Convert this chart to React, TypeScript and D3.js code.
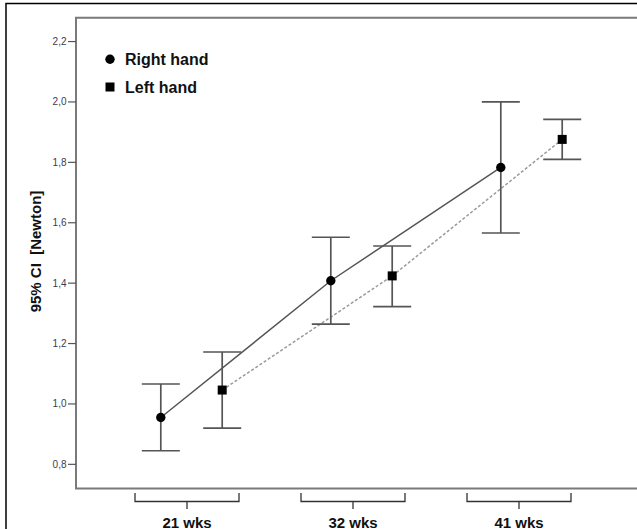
import * as React from "react";
import * as d3 from "d3";

// groups (gestational age) and the two series
const categories = ["21 wks", "32 wks", "41 wks"];
const rightMean = [0.955, 1.408, 1.783];
const rightLow = [0.845, 1.264, 1.566];
const rightHigh = [1.066, 1.552, 2.0];
const leftMean = [1.046, 1.424, 1.876];
const leftLow = [0.92, 1.322, 1.81];
const leftHigh = [1.172, 1.523, 1.942];
const yTicks = [0.8, 1.0, 1.2, 1.4, 1.6, 1.8, 2.0, 2.2];

const W = 637;
const H = 529;
const FONT = "'Liberation Sans', Arial, sans-serif";

const App = () => {
  const left = 76;
  const top = 17.7;
  const bottom = 488.5;

  const y = d3.scaleLinear().domain([0.72, 2.279]).range([bottom, top]);
  // bracket centres under the axis
  const xGroup = d3.scalePoint<string>().domain(categories).range([187, 519]);
  // marker positions (series are dodged around these)
  const xMark = d3.scalePoint<string>().domain(categories).range([191.5, 531.5]);
  const dodge = 30.7;

  const series = [
    { name: "Right hand", mean: rightMean, low: rightLow, high: rightHigh, off: -dodge, shape: "circle" },
    { name: "Left hand", mean: leftMean, low: leftLow, high: leftHigh, off: dodge, shape: "square" },
  ];

  const line = d3.line<[number, number]>().x(d => d[0]).y(d => d[1]);
  const fmt = (v: number) => d3.format(".1f")(v).replace(".", ",");

  return (
    <svg width={W} height={H} style={{ position: "absolute", left: 0, top: 0, background: "#fff" }}>
      {/* outer border */}
      <rect x={6} y={3.5} width={W + 20} height={H + 20} fill="none" stroke="#000" strokeWidth={1.5} />

      {/* plot frame */}
      <path d={`M${W + 5},${top} H${left} V${bottom} H${W + 5}`} fill="none" stroke="#7a7a7a" strokeWidth={2} />

      {/* y axis ticks */}
      {yTicks.map((t, i) => (
        <g key={i}>
          <line x1={68} x2={left} y1={y(t)} y2={y(t)} stroke="#555" strokeWidth={1.2} />
          <text x={66.5} y={y(t)} dy="0.35em" textAnchor="end" fontFamily={FONT} fontSize={10} fill="#3c3c50">
            {fmt(t)}
          </text>
        </g>
      ))}
      <text
        transform={`translate(41,${(185 + 318) / 2}) rotate(-90)`}
        textAnchor="middle"
        fontFamily={FONT}
        fontWeight="bold"
        fontSize={15}
        fill="#111"
        style={{ whiteSpace: "pre" }}
      >
        {"95% CI  [Newton]"}
      </text>

      {/* x axis brackets */}
      {categories.map(c => {
        const cx = xGroup(c)!;
        return (
          <g key={c}>
            <path d={`M${cx - 52},493 V501.5 H${cx + 52} V493`} fill="none" stroke="#333" strokeWidth={1.3} />
            <line x1={cx} x2={cx} y1={501.5} y2={509} stroke="#333" strokeWidth={1.3} />
            <text x={cx} y={527.5} textAnchor="middle" fontFamily={FONT} fontWeight="bold" fontSize={15} fill="#111">
              {c}
            </text>
          </g>
        );
      })}

      {/* connecting lines */}
      <path
        d={line(categories.map((c, i) => [xMark(c)! - dodge, y(rightMean[i])]))!}
        fill="none"
        stroke="#555"
        strokeWidth={1.5}
      />
      <path
        d={line(categories.map((c, i) => [xMark(c)! + dodge, y(leftMean[i])]))!}
        fill="none"
        stroke="#9a9a9a"
        strokeWidth={1.5}
        strokeDasharray="3,2"
      />

      {/* error bars + markers */}
      {series.map(s => (
        <g key={s.name}>
          {categories.map((c, i) => {
            const cx = xMark(c)! + s.off;
            return (
              <g key={c}>
                <line x1={cx} x2={cx} y1={y(s.low[i])} y2={y(s.high[i])} stroke="#555" strokeWidth={1.7} />
                <line x1={cx - 19} x2={cx + 19} y1={y(s.low[i])} y2={y(s.low[i])} stroke="#555" strokeWidth={1.7} />
                <line x1={cx - 19} x2={cx + 19} y1={y(s.high[i])} y2={y(s.high[i])} stroke="#555" strokeWidth={1.7} />
                {s.shape === "circle" ? (
                  <circle cx={cx} cy={y(s.mean[i])} r={4.7} fill="#000" />
                ) : (
                  <rect x={cx - 4.5} y={y(s.mean[i]) - 4.5} width={9} height={9} fill="#000" />
                )}
              </g>
            );
          })}
        </g>
      ))}

      {/* legend */}
      <circle cx={110} cy={59.3} r={4.7} fill="#000" />
      <text x={125} y={64.5} fontFamily={FONT} fontWeight="bold" fontSize={16} fill="#111">Right hand</text>
      <rect x={105.5} y={82.5} width={9} height={9} fill="#000" />
      <text x={125} y={92.5} fontFamily={FONT} fontWeight="bold" fontSize={16} fill="#111">Left hand</text>
    </svg>
  );
};

export default App;
